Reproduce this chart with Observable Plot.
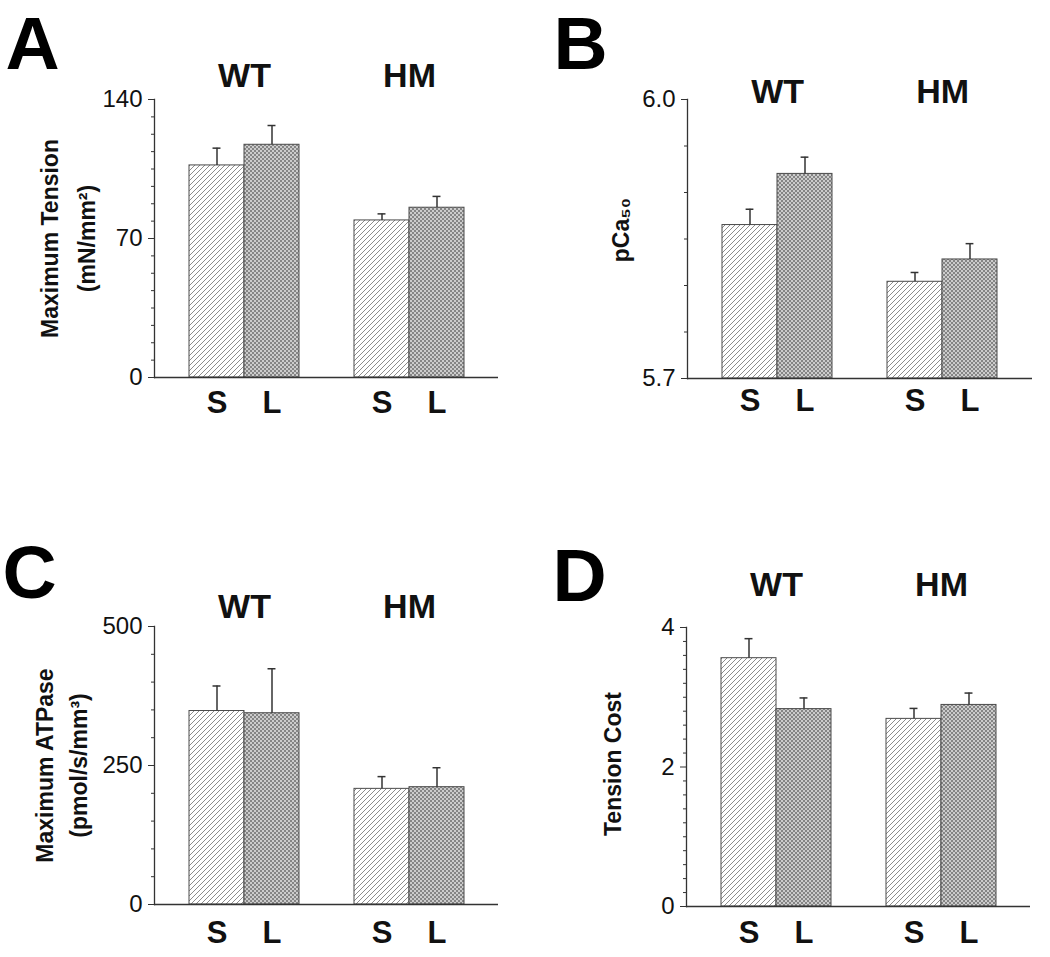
<!DOCTYPE html>
<html>
<head>
<meta charset="utf-8">
<script src="https://cdn.jsdelivr.net/npm/d3@7"></script>
<script src="https://cdn.jsdelivr.net/npm/@observablehq/plot@0.6"></script>
<style>
  html, body { margin: 0; padding: 0; background: #fff; }
  #root { position: relative; width: 1050px; height: 957px; overflow: hidden; }
  .panel { position: absolute; }
</style>
</head>
<body>
<div id="root"></div>
<script>
// ---- data ----
const groups = ["WT", "HM"];
const conditions = ["S", "L"];
// order: WT S, WT L, HM S, HM L
const tensionMean = [106.8, 117.2, 79.1, 85.5];
const tensionErr  = [8.7, 9.7, 3.3, 5.7];
const pcaMean     = [5.865, 5.920, 5.804, 5.828];
const pcaErr      = [0.017, 0.018, 0.010, 0.017];
const atpaseMean  = [348, 344, 208, 211];
const atpaseErr   = [45, 80, 22, 35];
const costMean    = [3.56, 2.83, 2.69, 2.89];
const costErr     = [0.28, 0.16, 0.15, 0.17];

const tensionTicks = [0, 70, 140];
const tensionTickLabels = ["0", "70", "140"];
const pcaTicks = [5.7, 6.0];
const pcaTickLabels = ["5.7", "6.0"];
const atpaseTicks = [0, 250, 500];
const atpaseTickLabels = ["0", "250", "500"];
const costTicks = [0, 2, 4];
const costTickLabels = ["0", "2", "4"];

// ---- layout ----
const FONT = "'Liberation Sans', Arial, Helvetica, sans-serif";
const padOuter = 0.625;
const panels = [
  {letter: "A", left: 0, top: 0, width: 525, height: 430, ml: 154, mr: 27, mt: 99, mb: 53,
   domain: [0, 140], ticks: tensionTicks, tickLabels: tensionTickLabels, minorStep: 8.75,
   mean: tensionMean, err: tensionErr,
   title: "Maximum Tension\n(mN/mm²)", titleDx: -90, titleDy: 0, titleLh: 1.6,
   groupDy: -13, condDy: 13, letterDx: -149, letterDy: -31},
  {letter: "B", left: 525, top: 0, width: 525, height: 430, ml: 162, mr: 18, mt: 99, mb: 52,
   domain: [5.7, 6.0], ticks: pcaTicks, tickLabels: pcaTickLabels, minorStep: 0.05,
   mean: pcaMean, err: pcaErr,
   title: "pCa₅₀", titleDx: -66, titleDy: -9, titleLh: 1,
   groupDy: 3, condDy: 10, letterDx: -134, letterDy: -31},
  {letter: "C", left: 0, top: 530, width: 525, height: 427, ml: 154, mr: 27, mt: 96, mb: 53,
   domain: [0, 500], ticks: atpaseTicks, tickLabels: atpaseTickLabels, minorStep: 50,
   mean: atpaseMean, err: atpaseErr,
   title: "Maximum ATPase\n(pmol/s/mm³)", titleDx: -95, titleDy: 0, titleLh: 1.48,
   groupDy: -9, condDy: 16, letterDx: -152, letterDy: -29},
  {letter: "D", left: 525, top: 530, width: 525, height: 427, ml: 161, mr: 20, mt: 97, mb: 51,
   domain: [0, 4], ticks: costTicks, tickLabels: costTickLabels, minorStep: 0.2,
   mean: costMean, err: costErr,
   title: "Tension Cost", titleDx: -73, titleDy: -3, titleLh: 1,
   groupDy: -32, condDy: 14, letterDx: -134, letterDy: -27}
];

function defsMark(id) {
  return () => {
    const g = document.createElementNS("http://www.w3.org/2000/svg", "g");
    g.innerHTML = `<defs>
      <pattern id="hs-${id}" patternUnits="userSpaceOnUse" width="5" height="5">
        <rect width="5" height="5" fill="#ffffff"/>
        <path d="M0,5 L5,0 M-1,1 L1,-1 M4,6 L6,4" stroke="#8c8c8c" stroke-width="1"/>
      </pattern>
      <pattern id="hl-${id}" patternUnits="userSpaceOnUse" width="4" height="4">
        <rect width="4" height="4" fill="#cccccc"/>
        <rect width="2" height="2" fill="#858585"/>
        <rect x="2" y="2" width="2" height="2" fill="#858585"/>
      </pattern>
    </defs>`;
    return g;
  };
}

function buildPanel(cfg) {
  const rows = [];
  groups.forEach((g, gi) => conditions.forEach((c, ci) => {
    const i = gi * conditions.length + ci;
    rows.push({group: g, cond: c, key: g + "|" + c, mean: cfg.mean[i], err: cfg.err[i]});
  }));
  const xDomain = groups.flatMap((g, gi) => [...(gi ? ["gap" + gi] : []), ...conditions.map(c => g + "|" + c)]);
  const [y0, y1] = cfg.domain;
  const bw = (cfg.width - cfg.ml - cfg.mr) / (xDomain.length + 2 * padOuter);
  const capInset = (bw - 8) / 2;
  const minor = d3.range(y0, y1 + cfg.minorStep / 2, cfg.minorStep).filter(v => !cfg.ticks.some(t => Math.abs(t - v) < 1e-9));
  const labelOf = new Map(cfg.ticks.map((t, i) => [t, cfg.tickLabels[i]]));
  const fills = {S: `url(#hs-${cfg.letter})`, L: `url(#hl-${cfg.letter})`};

  return Plot.plot({
    width: cfg.width,
    height: cfg.height,
    marginLeft: cfg.ml, marginRight: cfg.mr, marginTop: cfg.mt, marginBottom: cfg.mb,
    style: {fontFamily: FONT, background: "transparent", overflow: "visible", color: "#111"},
    x: {type: "band", domain: xDomain, paddingInner: 0, paddingOuter: padOuter, axis: null},
    y: {domain: cfg.domain, axis: null},
    marks: [
      defsMark(cfg.letter),
      ...conditions.map(c => Plot.barY(rows.filter(r => r.cond === c), {
        x: "key", y1: () => y0, y2: "mean", fill: fills[c], stroke: "#4a4a4a", strokeWidth: 1
      })),
      Plot.ruleX(rows, {x: "key", y1: "mean", y2: d => d.mean + d.err, stroke: "#333", strokeWidth: 1.5}),
      Plot.tickY(rows, {x: "key", y: d => d.mean + d.err, insetLeft: capInset, insetRight: capInset, stroke: "#333", strokeWidth: 1.5}),
      Plot.ruleY([y0], {stroke: "#333", strokeWidth: 1.3}),
      Plot.frame({anchor: "left", stroke: "#333", strokeWidth: 1.3}),
      Plot.axisY({ticks: minor, tickSize: 3, tickFormat: () => "", label: null, stroke: "#333"}),
      Plot.axisY({ticks: cfg.ticks, tickSize: 6, tickPadding: 6, tickFormat: d => labelOf.get(d), label: null,
                  fontSize: 24, stroke: "#333", fill: "#111"}),
      Plot.text(rows, {x: "key", text: "cond", frameAnchor: "bottom", lineAnchor: "top", dy: cfg.condDy,
                       fontSize: 31, fontWeight: "bold", fill: "#111"}),
      Plot.text(groups, {x: g => g + "|" + conditions[0], dx: bw / 2, text: d => d, frameAnchor: "top",
                         lineAnchor: "bottom", dy: cfg.groupDy, fontSize: 34, fontWeight: "bold", fill: "#111"}),
      Plot.text([cfg.title], {frameAnchor: "left", rotate: -90, dx: cfg.titleDx, dy: cfg.titleDy,
                              lineAnchor: "middle", textAnchor: "middle", lineHeight: cfg.titleLh,
                              fontSize: 23, fontWeight: "bold", fill: "#111"}),
      Plot.text([cfg.letter], {frameAnchor: "top-left", textAnchor: "start", lineAnchor: "bottom",
                               dx: cfg.letterDx, dy: cfg.letterDy, fontSize: 75, fontWeight: "bold", fill: "#000"})
    ]
  });
}

const root = document.getElementById("root");
panels.forEach(cfg => {
  const div = document.createElement("div");
  div.className = "panel";
  div.style.left = cfg.left + "px";
  div.style.top = cfg.top + "px";
  div.appendChild(buildPanel(cfg));
  root.appendChild(div);
});
</script>
</body>
</html>
